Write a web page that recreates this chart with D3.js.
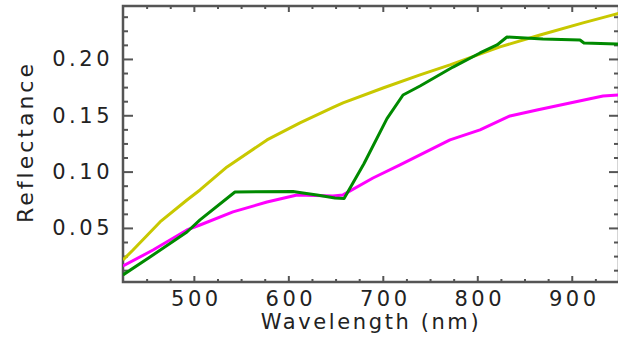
<!DOCTYPE html>
<html>
<head>
<meta charset="utf-8">
<script src="https://cdn.jsdelivr.net/npm/d3@7"></script>
<style>
  html, body { margin: 0; padding: 0; background: #fff; }
  svg { display: block; }
  .lbl { font-family: "DejaVu Sans", "Liberation Sans", sans-serif; fill: #222; }
</style>
</head>
<body>
<svg id="chart" width="618" height="338"></svg>
<script>
// Reflectance spectra, three samples
const yellowWavelength = [425, 435.6, 464.2, 492.7, 506.5, 535.1, 577.4, 612.3, 647.3, 657.9, 700.2, 739.4, 771.1, 824.0, 866.4, 911.9, 943.6, 950];
const yellowReflectance = [0.0216, 0.0304, 0.0553, 0.0748, 0.0837, 0.1041, 0.1281, 0.1432, 0.1570, 0.1610, 0.1742, 0.1858, 0.1947, 0.2107, 0.2213, 0.2320, 0.2391, 0.2405];

const magentaWavelength = [425, 456.8, 492.7, 506.5, 541.4, 577.4, 609.2, 647.3, 657.9, 689.6, 718.2, 771.1, 802.9, 834.6, 863.2, 898.1, 933.1, 950];
const magentaReflectance = [0.0162, 0.0304, 0.0482, 0.0526, 0.0642, 0.0730, 0.0793, 0.0784, 0.0793, 0.0943, 0.1059, 0.1281, 0.1370, 0.1494, 0.1547, 0.1609, 0.1671, 0.1680];

const greenWavelength = [425, 453.6, 492.7, 506.5, 543.5, 604.9, 615.5, 630.3, 649.4, 659.0, 680.0, 704.4, 721.4, 739.4, 774.3, 802.9, 820.9, 831.4, 869.5, 908.7, 912.9, 947.9, 950];
const greenReflectance = [0.0083, 0.0242, 0.0464, 0.0571, 0.0819, 0.0824, 0.0810, 0.0793, 0.0766, 0.0762, 0.1070, 0.1470, 0.1680, 0.1760, 0.1928, 0.2053, 0.2124, 0.2195, 0.2177, 0.2168, 0.2141, 0.2133, 0.2133];

const xMajorTicks = [500, 600, 700, 800, 900];
const xMinorTicks = [450, 475, 525, 550, 575, 625, 650, 675, 725, 750, 775, 825, 850, 875, 925];
const yMajorTicks = [0.05, 0.10, 0.15, 0.20];
const yMinorTicks = [0.0125, 0.025, 0.0375, 0.0625, 0.075, 0.0875, 0.1125, 0.125, 0.1375, 0.1625, 0.175, 0.1875, 0.2125, 0.225, 0.2375];

const svg = d3.select("#chart");
const plotLeft = 123, plotRight = 619, plotTop = 6, plotBottom = 282;

const x = d3.scaleLinear().domain([425, 950]).range([plotLeft, plotRight]);
const y = d3.scaleLinear().domain([0.002, 0.247]).range([plotBottom, plotTop]);

const axisColor = "#555";
const tickFontSize = "21px";
const tickSpacing = "3.5px";

function styleAxis(g) {
  g.select(".domain").remove();
  g.selectAll(".tick line").attr("stroke", axisColor).attr("stroke-width", 2);
}

// x axes (bottom with labels, top ticks only)
svg.append("g").attr("transform", `translate(0,${plotBottom})`)
  .call(d3.axisBottom(x).tickValues(xMinorTicks).tickSize(-3).tickFormat(""))
  .call(styleAxis);
svg.append("g").attr("transform", `translate(0,${plotBottom})`)
  .call(d3.axisBottom(x).tickValues(xMajorTicks).tickSize(-6).tickFormat(d3.format("d")).tickPadding(0))
  .call(styleAxis)
  .call(g => g.selectAll("text").attr("class", "lbl").attr("fill", "#222")
    .style("font-size", tickFontSize).style("letter-spacing", tickSpacing)
    .attr("x", 2).attr("y", 24).attr("dy", 0));
svg.append("g").attr("transform", `translate(0,${plotTop})`)
  .call(d3.axisTop(x).tickValues(xMinorTicks).tickSize(-3).tickFormat(""))
  .call(styleAxis);
svg.append("g").attr("transform", `translate(0,${plotTop})`)
  .call(d3.axisTop(x).tickValues(xMajorTicks).tickSize(-6).tickFormat(""))
  .call(styleAxis);

// y axes (left with labels, right ticks only)
svg.append("g").attr("transform", `translate(${plotLeft},0)`)
  .call(d3.axisLeft(y).tickValues(yMinorTicks).tickSize(-5).tickFormat(""))
  .call(styleAxis);
svg.append("g").attr("transform", `translate(${plotLeft},0)`)
  .call(d3.axisLeft(y).tickValues(yMajorTicks).tickSize(-10).tickFormat(d3.format(".2f")).tickPadding(10))
  .call(styleAxis)
  .call(g => g.selectAll("text").attr("class", "lbl").attr("fill", "#222")
    .style("font-size", tickFontSize).style("letter-spacing", tickSpacing));
svg.append("g").attr("transform", `translate(${plotRight},0)`)
  .call(d3.axisRight(y).tickValues(yMinorTicks).tickSize(-5).tickFormat(""))
  .call(styleAxis);
svg.append("g").attr("transform", `translate(${plotRight},0)`)
  .call(d3.axisRight(y).tickValues(yMajorTicks).tickSize(-10).tickFormat(""))
  .call(styleAxis);

// plot frame
svg.append("rect")
  .attr("x", plotLeft).attr("y", plotTop)
  .attr("width", plotRight - plotLeft).attr("height", plotBottom - plotTop)
  .attr("fill", "none").attr("stroke", axisColor).attr("stroke-width", 2.5);

// spectra
const line = d3.line().x(d => x(d[0])).y(d => y(d[1]));
const series = [
  { wl: yellowWavelength, ref: yellowReflectance, color: "#c8c800" },
  { wl: magentaWavelength, ref: magentaReflectance, color: "#ff00ff" },
  { wl: greenWavelength, ref: greenReflectance, color: "#008a00" }
];
svg.append("clipPath").attr("id", "plotClip")
  .append("rect").attr("x", plotLeft).attr("y", plotTop)
  .attr("width", plotRight - plotLeft).attr("height", plotBottom - plotTop);
svg.append("g").attr("clip-path", "url(#plotClip)")
  .selectAll("path").data(series).join("path")
  .attr("d", s => line(s.wl.map((w, i) => [w, s.ref[i]])))
  .attr("fill", "none")
  .attr("stroke", s => s.color)
  .attr("stroke-width", 3)
  .attr("stroke-linejoin", "round");

// axis titles
svg.append("text").attr("class", "lbl")
  .attr("x", (plotLeft + plotRight) / 2).attr("y", 329)
  .attr("text-anchor", "middle")
  .style("font-size", "21px").style("letter-spacing", "2.6px")
  .text("Wavelength (nm)");
svg.append("text").attr("class", "lbl")
  .attr("transform", `translate(33,${(plotTop + plotBottom) / 2 - 2}) rotate(-90)`)
  .attr("text-anchor", "middle")
  .style("font-size", "22px").style("letter-spacing", "3px")
  .text("Reflectance");
</script>
</body>
</html>
